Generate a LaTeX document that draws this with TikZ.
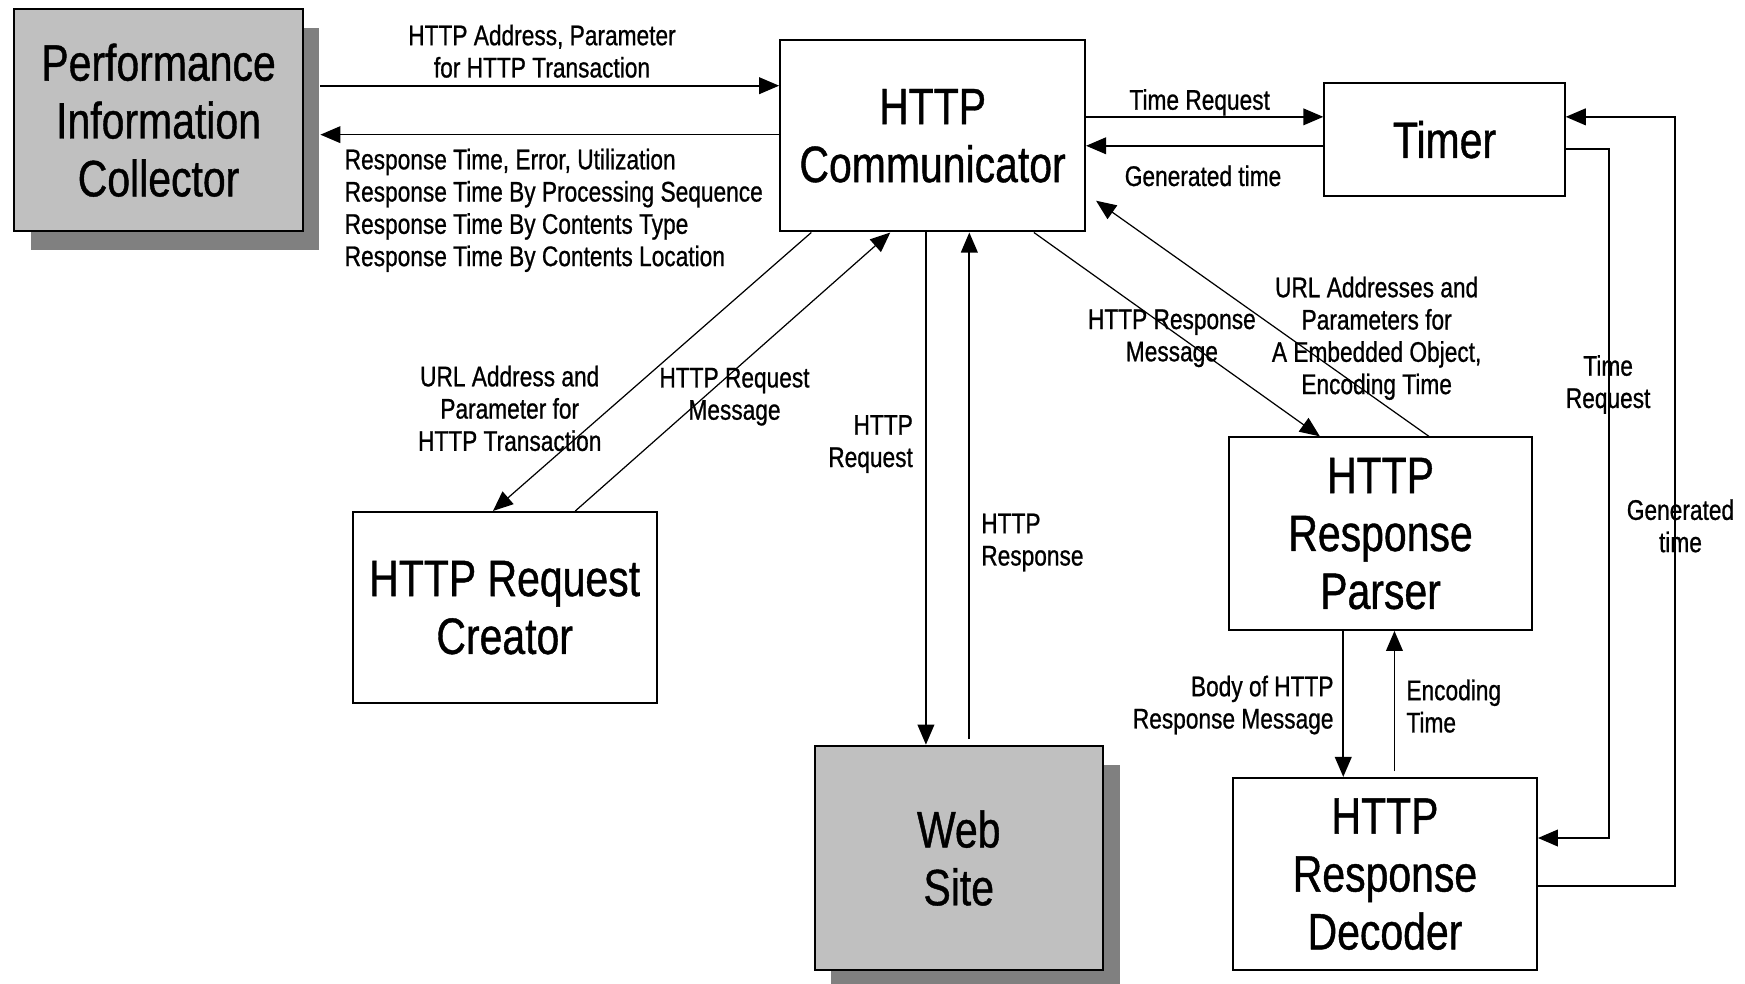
\documentclass[tikz,border=0pt]{standalone}
\usepackage{fontspec}
\setmainfont{Liberation Sans}[FakeStretch=0.8,FakeBold=0.8]
\usetikzlibrary{arrows.meta,positioning,shadows}
\definecolor{boxgray}{HTML}{C0C0C0}
\definecolor{shadegray}{HTML}{808080}

\begin{document}
\begin{tikzpicture}
[x=1pt,y=-1pt,->,>={Triangle[length=18pt,width=15pt]},line width=1.5pt,
 block/.style={draw=black,line width=1.8pt,inner sep=0pt,align=center,font=\fontsize{46}{52}\selectfont},
 shaded/.style={fill=boxgray,drop shadow={shadow xshift=15pt,shadow yshift=-17pt,fill=shadegray,opacity=1}},
 lbl/.style={inner sep=0pt,align=center,font=\fontsize{25.5}{29}\selectfont},
 thin line/.style={line width=1.1pt}]

  \useasboundingbox (0,0) rectangle (1568,884);

  \node (pic) [block, shaded, minimum width=259pt, minimum height=200pt] at (142.5,108) {Performance\\Information\\Collector};
  \node (comm) [block, minimum width=274pt, minimum height=172pt] at (838,122) {HTTP\\Communicator};
  \node (timer) [block, minimum width=216pt, minimum height=101pt] at (1298,125.5) {Timer};
  \node (creator) [block, minimum width=273pt, minimum height=172pt] at (453.5,546) {HTTP Request\\Creator};
  \node (web) [block, shaded, minimum width=259pt, minimum height=202pt] at (861.5,771) {Web\\Site};
  \node (parser) [block, minimum width=273pt, minimum height=173pt] at (1240.5,479.5) {HTTP\\Response\\Parser};
  \node (decoder) [block, minimum width=273pt, minimum height=173pt] at (1244.5,785.5) {HTTP\\Response\\Decoder};

  \coordinate (picedge) at ([xshift=15pt]pic.east);

  \draw (picedge |- 0,77) -- (comm.west |- 0,77);
  \draw (comm.west |- 0,121) -- (picedge |- 0,121);
  \draw (comm.east |- 0,105) -- (timer.west |- 0,105);
  \draw (timer.west |- 0,131) -- (comm.east |- 0,131);
  \draw [thin line] (comm.south -| 729,0) -- (creator.north -| 443,0);
  \draw [thin line] (creator.north -| 517,0) -- (comm.south -| 800,0);
  \draw (comm.south -| 832,0) -- (web.north -| 832,0);
  \draw [shorten <=5pt] (web.north -| 871,0) -- (comm.south -| 871,0);
  \draw [thin line] (comm.south -| 929,0) -- (parser.north -| 1186,0);
  \draw [thin line, shorten >=11pt] (parser.north -| 1284,0) -- (comm.east |- 0,174);
  \draw (parser.south -| 1207,0) -- (decoder.north -| 1207,0);
  \draw [shorten <=5pt] (decoder.north -| 1253,0) -- (parser.south -| 1253,0);
  \draw (timer.east |- 0,134) -| (1446,753) -- (decoder.east |- 0,753);
  \draw (decoder.east |- 0,796) -| (1505,105) -- (timer.east |- 0,105);

  \node (lAddr) [lbl] at (487,46) {HTTP Address, Parameter\\for HTTP Transaction};
  \node (lResp) [lbl, anchor=west, align=left] at (309,189) {Response Time, Error, Utilization\\Response Time By Processing Sequence\\Response Time By Contents Type\\Response Time By Contents Location};
  \node (lTimeReq) [lbl] at (1078,92) {Time Request};
  \node (lGenTime) [lbl] at (1081,158) {Generated time};
  \node (lUrl) [lbl] at (458,367) {URL Address and\\Parameter for\\HTTP Transaction};
  \node (lReqMsg) [lbl] at (660,356.5) {HTTP Request\\Message};
  \node (lHttpReq) [lbl, anchor=east, align=right] at (821,399) {HTTP\\Request};
  \node (lHttpResp) [lbl, anchor=west, align=left] at (881,487.5) {HTTP\\Response};
  \node (lRespMsg) [lbl] at (1053,304) {HTTP Response\\Message};
  \node (lUrls) [lbl] at (1237,304) {URL Addresses and\\Parameters for\\A Embedded Object,\\Encoding Time};
  \node (lBody) [lbl, anchor=east, align=right] at (1199,633.5) {Body of HTTP\\Response Message};
  \node (lEnc) [lbl, anchor=west, align=left] at (1263,634.5) {Encoding\\Time};
  \node (lTimerReq) [lbl] at (1445,345.5) {Time\\Request};
  \node (lTimerGen) [lbl] at (1510,472.5) {Generated\\time};

\end{tikzpicture}
\end{document}
